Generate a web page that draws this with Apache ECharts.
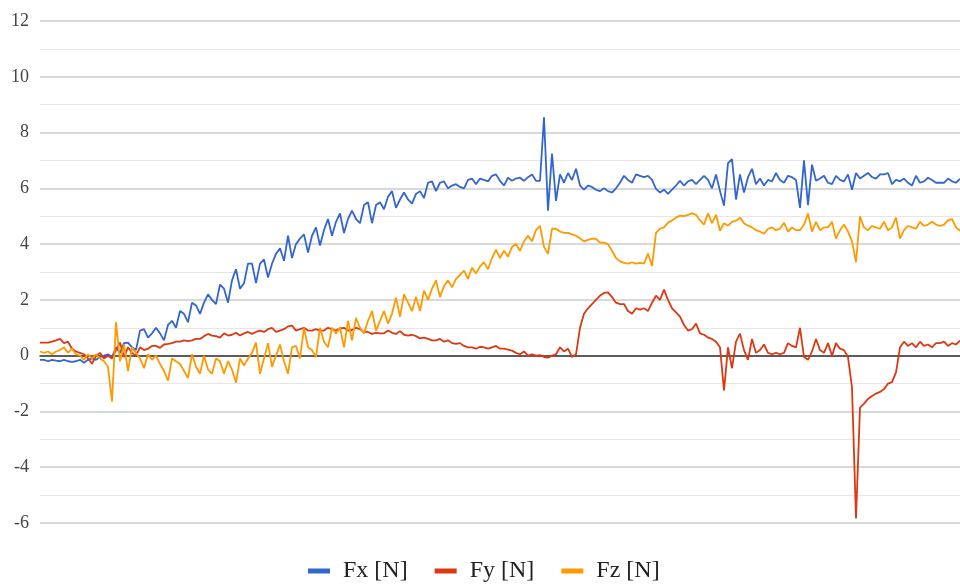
<!DOCTYPE html>
<html>
<head>
<meta charset="utf-8">
<script src="https://cdn.jsdelivr.net/npm/echarts@6/dist/echarts.min.js"></script>
<style>
  html, body { margin: 0; padding: 0; background: #fff; }
  #chart { width: 960px; height: 584px; }
</style>
</head>
<body>
<div id="chart"></div>
<script>
// Force components sampled along the measurement (one sample per step)
const fx = [
  -0.15, -0.15, -0.2, -0.15, -0.18, -0.2, -0.15, -0.2, -0.22, -0.2,
  -0.15, -0.25, -0.15, -0.1, -0.15, -0.05, 0.0, 0.05, -0.05, 0.3,
  0.1, 0.45, 0.47, 0.3, 0.2, 0.9, 0.95, 0.65, 0.8, 1.0,
  0.8, 0.55, 1.1, 1.25, 1.0, 1.6, 1.5, 1.2, 1.9, 1.8,
  1.5, 1.9, 2.2, 2.0, 1.85, 2.55, 2.4, 1.9, 2.7, 3.1,
  2.4, 2.6, 3.3, 3.3, 2.6, 3.3, 3.45, 2.8, 3.3, 3.65,
  3.85, 3.4, 4.3, 3.5, 4.0, 4.2, 4.35, 3.7, 4.3, 4.6,
  3.95, 4.5, 4.9, 4.3, 4.8, 5.1, 4.4, 4.9, 5.2, 4.9,
  4.75, 5.4, 5.5, 4.75, 5.4, 5.5, 5.25, 5.7, 5.9, 5.3,
  5.6, 5.85, 5.6, 5.45, 5.8, 5.9, 5.65, 6.2, 6.25, 5.9,
  6.2, 6.25, 6.0, 6.1, 6.15, 6.05, 6.0, 6.3, 6.35, 6.15,
  6.35, 6.3, 6.25, 6.45, 6.5, 6.27, 6.1, 6.38, 6.27, 6.35,
  6.38, 6.27, 6.4, 6.5, 6.27, 6.27, 8.55, 5.2, 7.25, 5.55,
  6.5, 6.2, 6.55, 6.3, 6.7, 6.1, 5.95, 6.1, 6.05, 5.95,
  5.9, 6.0, 5.9, 5.85, 6.0, 6.2, 6.45, 6.3, 6.2, 6.5,
  6.45, 6.4, 6.45, 6.3, 5.98, 5.85, 5.95, 5.8, 5.95, 6.1,
  6.27, 6.1, 6.25, 6.3, 6.15, 6.3, 6.45, 6.3, 6.0, 6.5,
  5.9, 5.38, 6.9, 7.05, 5.6, 6.5, 5.85, 6.4, 6.7, 6.15,
  6.35, 6.1, 6.3, 6.25, 6.55, 6.3, 6.2, 6.45, 6.4, 6.3,
  5.3, 7.0, 5.4, 6.85, 6.27, 6.35, 6.45, 6.2, 6.15, 6.45,
  6.3, 6.25, 6.5, 5.95, 6.55, 6.35, 6.45, 6.55, 6.4, 6.35,
  6.5, 6.5, 6.55, 6.15, 6.3, 6.25, 6.35, 6.2, 6.1, 6.45,
  6.2, 6.25, 6.38, 6.3, 6.2, 6.2, 6.2, 6.35, 6.25, 6.2,
  6.34
];

const fy = [
  0.47, 0.47, 0.47, 0.5, 0.55, 0.6, 0.45, 0.5, 0.25, 0.15,
  0.1, 0.05, -0.1, -0.29, 0.0, 0.1, -0.1, 0.0, -0.1, 0.2,
  0.47, -0.05, 0.3, 0.1, 0.0, 0.3, 0.2, 0.25, 0.35, 0.35,
  0.28, 0.4, 0.42, 0.45, 0.5, 0.5, 0.55, 0.52, 0.55, 0.6,
  0.6, 0.7, 0.78, 0.72, 0.7, 0.65, 0.8, 0.72, 0.75, 0.82,
  0.72, 0.8, 0.85, 0.78, 0.85, 0.9, 0.85, 0.95, 1.0, 0.85,
  0.9, 0.95, 1.05, 1.08, 0.9, 0.95, 1.0, 0.9, 0.9, 0.95,
  0.9, 0.9, 1.0, 0.95, 0.9, 0.98, 1.0, 0.9, 0.92, 1.0,
  0.95, 0.85, 0.85, 0.78, 0.82, 0.8, 0.8, 0.9, 0.82, 0.78,
  0.88, 0.75, 0.72, 0.75, 0.7, 0.62, 0.65, 0.6, 0.55, 0.55,
  0.6, 0.5, 0.55, 0.45, 0.42, 0.45, 0.35, 0.3, 0.3, 0.25,
  0.32, 0.3, 0.25, 0.3, 0.35, 0.25, 0.25, 0.22, 0.18, 0.1,
  0.05, 0.15, 0.0, 0.05, 0.0, 0.02, -0.05, -0.07, 0.0, 0.05,
  0.3, 0.15, 0.25, -0.05, 0.05, 1.0, 1.5, 1.7, 1.85, 2.0,
  2.15, 2.25, 2.27, 2.1, 1.9, 1.85, 1.85, 1.6, 1.5, 1.7,
  1.65, 1.7, 1.6, 1.9, 2.15, 2.0, 2.37, 2.0, 1.7, 1.55,
  1.4, 1.1, 0.9, 0.95, 1.15, 0.8, 0.75, 0.65, 0.6, 0.5,
  0.3, -1.25, 0.3, -0.45, 0.5, 0.79, 0.2, -0.15, 0.6, 0.1,
  0.2, 0.4, 0.1, 0.05, 0.1, 0.05, 0.1, 0.45, 0.35, 0.3,
  1.0, -0.05, -0.15, 0.15, 0.6, 0.2, 0.1, 0.45, 0.0, 0.45,
  0.25, 0.2, -0.05, -1.15, -5.84, -1.86, -1.72, -1.55, -1.45, -1.36,
  -1.3, -1.2, -1.0, -0.95, -0.6, 0.3, 0.5, 0.35, 0.45, 0.3,
  0.5, 0.35, 0.4, 0.3, 0.45, 0.45, 0.5, 0.35, 0.45, 0.4,
  0.54
];

const fz = [
  0.15, 0.1, 0.15, 0.05, 0.15, 0.2, 0.3, 0.1, 0.25, 0.05,
  0.0, -0.15, 0.05, -0.1, 0.05, -0.1, -0.2, -0.4, -1.65, 1.2,
  -0.2, 0.4, -0.55, 0.3, 0.1, -0.1, -0.45, 0.05, -0.15, 0.0,
  -0.3, -0.55, -0.9, -0.1, -0.2, -0.3, -0.55, -0.8, 0.05, -0.4,
  -0.65, 0.0, -0.5, -0.65, -0.1, -0.2, -0.65, -0.2, -0.5, -0.97,
  -0.1, -0.35, -0.1, 0.1, 0.47, -0.65, -0.1, 0.45, -0.4, 0.0,
  0.4, -0.2, -0.65, 0.3, 0.35, -0.1, 1.0, 0.3, 0.2, -0.05,
  1.0, 0.5, 0.3, 1.0, 0.8, 1.0, 0.3, 1.25, 0.55, 1.35,
  1.0, 0.8, 1.25, 1.6, 0.9, 1.25, 1.6, 1.15, 1.5, 2.08,
  1.4, 2.2, 1.9, 1.6, 2.1, 1.6, 2.33, 2.0, 2.4, 2.7,
  2.1, 2.5, 2.7, 2.45, 2.75, 2.9, 3.05, 2.75, 3.15, 2.95,
  3.2, 3.35, 3.1, 3.5, 3.8, 3.5, 3.76, 3.55, 3.9, 4.0,
  3.76, 4.1, 4.3, 4.1, 4.5, 4.65, 3.9, 3.65, 4.55, 4.55,
  4.45, 4.4, 4.4, 4.35, 4.3, 4.2, 4.1, 4.15, 4.2, 4.19,
  4.05, 4.05, 4.0, 3.76, 3.5, 3.38, 3.33, 3.3, 3.35, 3.3,
  3.33, 3.3, 3.66, 3.22, 4.4, 4.55, 4.6, 4.77, 4.85, 4.95,
  5.02, 5.0, 5.05, 5.1, 5.05, 4.85, 4.7, 5.1, 4.75, 5.05,
  4.48, 4.75, 4.66, 4.8, 4.84, 4.95, 4.75, 4.66, 4.6, 4.5,
  4.45, 4.37, 4.55, 4.6, 4.5, 4.55, 4.77, 4.45, 4.6, 4.5,
  4.5, 4.7, 5.1, 4.45, 4.8, 4.5, 4.6, 4.6, 4.8, 4.2,
  4.5, 4.7, 4.45, 4.1, 3.35, 5.0, 4.6, 4.5, 4.65, 4.6,
  4.55, 4.8, 4.5, 4.6, 4.95, 4.2, 4.5, 4.65, 4.6, 4.55,
  4.8, 4.65, 4.7, 4.8, 4.7, 4.65, 4.7, 4.85, 4.9, 4.6,
  4.48
];

// Sample index used as the (hidden) category axis
const samples = fx.map((_, i) => i + 1);

const seriesNames = ['Fx [N]', 'Fy [N]', 'Fz [N]'];
const seriesColors = ['#3366cc', '#dc3912', '#ff9900'];
const yTicks = { min: -6, max: 12, step: 2 };

const serif = "'Liberation Serif', 'DejaVu Serif', serif";

const chart = echarts.init(document.getElementById('chart'), null, { renderer: 'canvas' });

const lineSeries = [fx, fy, fz].map((values, k) => ({
  name: seriesNames[k],
  type: 'line',
  data: values,
  showSymbol: false,
  symbol: 'none',
  smooth: false,
  lineStyle: { width: 1.8, color: seriesColors[k] },
  itemStyle: { color: seriesColors[k] },
  z: 2 + k
}));

chart.setOption({
  animation: false,
  backgroundColor: '#ffffff',
  grid: { left: 40, right: 0, top: 21, bottom: 61, containLabel: false },
  legend: {
    data: seriesNames,
    top: 554,
    left: 303,
    icon: 'rect',
    itemWidth: 22,
    itemHeight: 5,
    itemGap: 27,
    textStyle: { fontFamily: serif, fontSize: 24, color: '#222', padding: [0, 0, 0, 8] }
  },
  xAxis: {
    type: 'category',
    data: samples,
    boundaryGap: false,
    axisLine: { show: true, onZero: true, lineStyle: { color: '#333', width: 1.5 } },
    axisTick: { show: false },
    axisLabel: { show: false },
    splitLine: { show: false }
  },
  yAxis: {
    type: 'value',
    min: yTicks.min,
    max: yTicks.max,
    interval: yTicks.step,
    axisLine: { show: false },
    axisTick: { show: false },
    axisLabel: {
      fontFamily: serif,
      fontSize: 18,
      color: '#444',
      margin: 11
    },
    splitLine: { show: true, lineStyle: { color: '#cccccc', width: 1.5 } },
    minorTick: { show: false, splitNumber: 2 },
    minorSplitLine: { show: true, lineStyle: { color: '#e6e6e6', width: 1.2 } }
  },
  series: lineSeries
});
</script>
</body>
</html>
